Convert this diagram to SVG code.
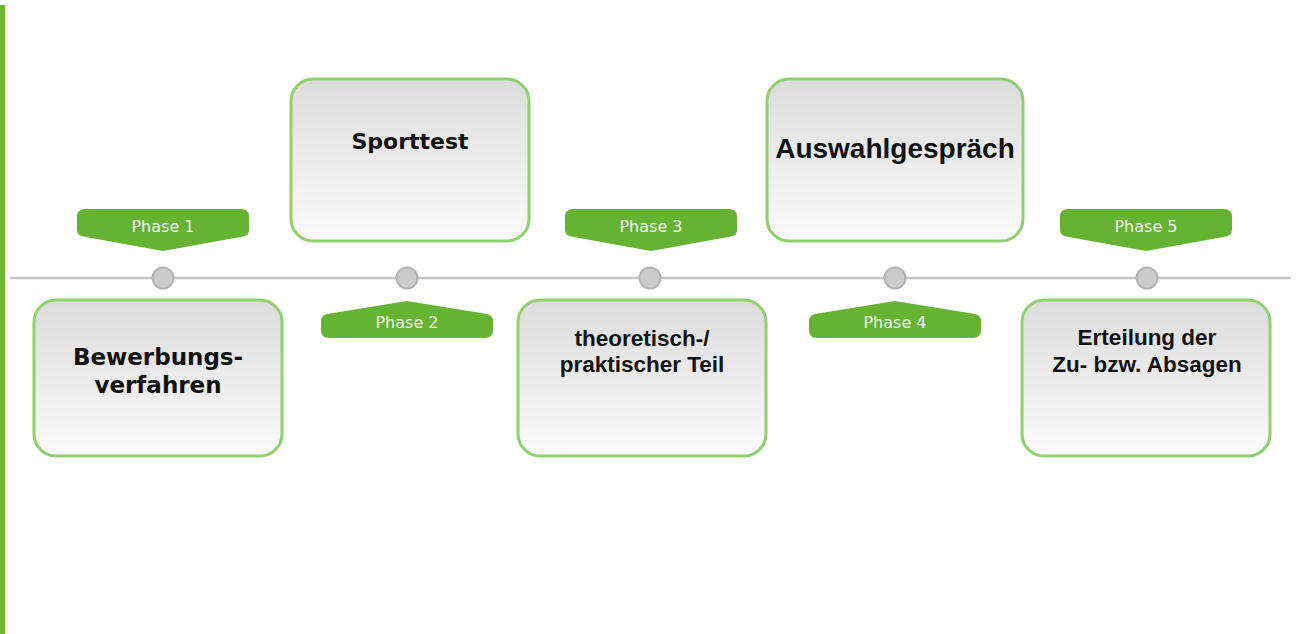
<svg xmlns="http://www.w3.org/2000/svg" width="1297" height="634" viewBox="0 0 1297 634">
<style>
.box{stroke:#8fd06f;stroke-width:3;fill:url(#g)}
.lab{fill:#66b232}
.pt{font-family:"DejaVu Sans",Verdana,sans-serif;font-size:16px;fill:#f0f8ea;text-anchor:middle}
.bv{font-family:"DejaVu Sans",Verdana,sans-serif;font-weight:bold;font-size:22px;fill:#111;text-anchor:middle}
.ba{font-family:"Liberation Sans",Arial,sans-serif;font-weight:bold;font-size:22.5px;fill:#111;text-anchor:middle}
.dot{fill:#cbcbcb;stroke:#b3b3b3;stroke-width:2}
</style>
<defs>
<linearGradient id="g" x1="0" y1="0" x2="0" y2="1">
<stop offset="0" stop-color="#dcdcdc"/>
<stop offset="1" stop-color="#fbfbfb"/>
</linearGradient>
</defs>
<rect width="1297" height="634" fill="#fff"/>
<rect x="0" y="5" width="5" height="629" fill="#6cb536"/>
<g id="connectors">
<line x1="10" y1="278" x2="1291" y2="278" stroke="#c6c6c6" stroke-width="2.5"/>
<circle class="dot" cx="163" cy="278" r="10.5"/>
<circle class="dot" cx="407" cy="278" r="10.5"/>
<circle class="dot" cx="650" cy="278" r="10.5"/>
<circle class="dot" cx="895" cy="278" r="10.5"/>
<circle class="dot" cx="1147" cy="278" r="10.5"/>
</g>
<g id="phase1">
<path class="lab" d="M85,209 H241 Q249,209 249,217 V230 Q249,235 243,236.5 L163,251 L83,236.5 Q77,235 77,230 V217 Q77,209 85,209 Z"/>
<text class="pt" x="163" y="232">Phase 1</text>
</g>
<g id="phase2">
<path class="lab" d="M407,301 L487,314 Q493,315.5 493,321 V330 Q493,338 485,338 H329 Q321,338 321,330 V321 Q321,315.5 327,314 Z"/>
<text class="pt" x="407" y="328">Phase 2</text>
</g>
<g id="phase3">
<path class="lab" d="M573,209 H729 Q737,209 737,217 V230 Q737,235 731,236.5 L651,251 L571,236.5 Q565,235 565,230 V217 Q565,209 573,209 Z"/>
<text class="pt" x="651" y="232">Phase 3</text>
</g>
<g id="phase4">
<path class="lab" d="M895,301 L975,314 Q981,315.5 981,321 V330 Q981,338 973,338 H817 Q809,338 809,330 V321 Q809,315.5 815,314 Z"/>
<text class="pt" x="895" y="328">Phase 4</text>
</g>
<g id="phase5">
<path class="lab" d="M1068,209 H1224 Q1232,209 1232,217 V230 Q1232,235 1226,236.5 L1146,251 L1066,236.5 Q1060,235 1060,230 V217 Q1060,209 1068,209 Z"/>
<text class="pt" x="1146" y="232">Phase 5</text>
</g>
<g id="box1">
<rect class="box" x="34" y="300" width="248" height="156" rx="22"/>
<text class="bv" x="158" y="365" style="font-size:23px">Bewerbungs-</text>
<text class="bv" x="158" y="393" style="font-size:23px">verfahren</text>
</g>
<g id="box2">
<rect class="box" x="291" y="79" width="238" height="162" rx="22"/>
<text class="bv" x="410" y="149">Sporttest</text>
</g>
<g id="box3">
<rect class="box" x="518" y="300" width="248" height="156" rx="22"/>
<text class="ba" x="642" y="346">theoretisch-/</text>
<text class="ba" x="642" y="372">praktischer Teil</text>
</g>
<g id="box4">
<rect class="box" x="767" y="79" width="256" height="162" rx="22"/>
<text class="ba" x="895" y="158" style="font-size:28px">Auswahlgespräch</text>
</g>
<g id="box5">
<rect class="box" x="1022" y="300" width="248" height="156" rx="22"/>
<text class="ba" x="1147" y="345">Erteilung der</text>
<text class="ba" x="1147" y="372">Zu- bzw. Absagen</text>
</g>
</svg>
